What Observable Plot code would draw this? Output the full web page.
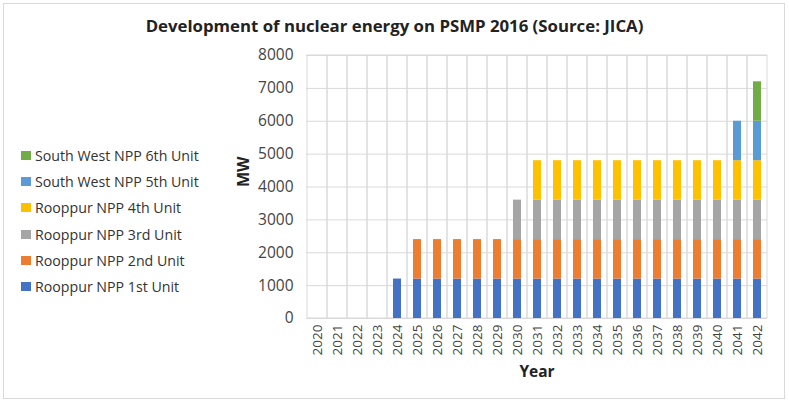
<!DOCTYPE html>
<html>
<head>
<meta charset="utf-8">
<script src="https://cdn.jsdelivr.net/npm/d3@7"></script>
<script src="https://cdn.jsdelivr.net/npm/@observablehq/plot@0.6"></script>
<style>
  html, body { margin: 0; padding: 0; background: #fff; }
  #wrap { position: relative; width: 789px; height: 402px; font-family: "Open Sans", sans-serif; overflow: hidden; }
  #border { position: absolute; left: 3px; top: 3px; width: 780px; height: 394px; border: 1px solid #d9d9d9; pointer-events: none; }
  #title { position: absolute; left: 0; top: 14px; width: 789px; text-align: center; font-weight: bold; font-size: 16.8px; color: #222; }
  #legend { position: absolute; left: 21px; top: 142px; }
  .item { display: flex; align-items: center; height: 26.3px; font-size: 14.2px; color: #333; white-space: nowrap; }
  .sw { width: 10px; height: 9px; margin-right: 4px; }
  #chart { position: absolute; left: 0; top: 0; }
</style>
</head>
<body>
<div id="wrap">
  <div id="chart"></div>
  <div id="title">Development of nuclear energy on PSMP 2016 (Source: JICA)</div>
  <div id="legend"></div>
  <div id="border"></div>
</div>
<script>
const years = ["2020","2021","2022","2023","2024","2025","2026","2027","2028","2029","2030","2031","2032","2033","2034","2035","2036","2037","2038","2039","2040","2041","2042"];
const seriesNames = ["Rooppur NPP 1st Unit","Rooppur NPP 2nd Unit","Rooppur NPP 3rd Unit","Rooppur NPP 4th Unit","South West NPP 5th Unit","South West NPP 6th Unit"];
const seriesColors = ["#4472C4","#ED7D31","#A5A5A5","#FFC000","#5B9BD5","#70AD47"];
const unit1 = [0,0,0,0,1200,1200,1200,1200,1200,1200,1200,1200,1200,1200,1200,1200,1200,1200,1200,1200,1200,1200,1200];
const unit2 = [0,0,0,0,0,1200,1200,1200,1200,1200,1200,1200,1200,1200,1200,1200,1200,1200,1200,1200,1200,1200,1200];
const unit3 = [0,0,0,0,0,0,0,0,0,0,1200,1200,1200,1200,1200,1200,1200,1200,1200,1200,1200,1200,1200];
const unit4 = [0,0,0,0,0,0,0,0,0,0,0,1200,1200,1200,1200,1200,1200,1200,1200,1200,1200,1200,1200];
const unit5 = [0,0,0,0,0,0,0,0,0,0,0,0,0,0,0,0,0,0,0,0,0,1200,1200];
const unit6 = [0,0,0,0,0,0,0,0,0,0,0,0,0,0,0,0,0,0,0,0,0,0,1200];
const yTicks = [0,1000,2000,3000,4000,5000,6000,7000,8000];

const seriesValues = [unit1, unit2, unit3, unit4, unit5, unit6];
const data = [];
seriesNames.forEach((name, si) => {
  years.forEach((yr, i) => data.push({year: yr, series: name, value: seriesValues[si][i]}));
});

const chart = Plot.plot({
  width: 789,
  height: 402,
  marginLeft: 306,
  marginRight: 22,
  marginTop: 55,
  marginBottom: 84,
  style: {fontFamily: "Open Sans, sans-serif", color: "#444", background: "transparent"},
  x: {domain: years, padding: 0, label: null},
  y: {domain: [0, 8000], label: null},
  color: {domain: seriesNames, range: seriesColors},
  marks: [
    Plot.gridY(yTicks, {stroke: "#d9d9d9", strokeOpacity: 1}),
    Plot.cell(years, {x: d => d, fill: "none", stroke: "#d9d9d9"}),
    Plot.barY(data, {x: "year", y: "value", fill: "series", order: seriesNames, insetLeft: 6, insetRight: 6}),
    Plot.ruleY([0], {stroke: "#d9d9d9"}),
    Plot.axisY(yTicks, {tickSize: 0, tickPadding: 13, fontSize: 15.5, tickFormat: d => String(d), label: null, fill: "#444"}),
    Plot.axisX(years, {tickSize: 0, tickPadding: 6, tickRotate: -90, fontSize: 13.5, label: null, fill: "#444"}),
    Plot.text(["Year"], {frameAnchor: "bottom", dy: 58, fontWeight: "bold", fontSize: 15.5, fill: "#222"}),
    Plot.text(["MW"], {frameAnchor: "left", dx: -63, rotate: -90, fontWeight: "bold", fontSize: 16, fill: "#222"})
  ]
});
document.getElementById("chart").appendChild(chart);

const legend = document.getElementById("legend");
for (let i = seriesNames.length - 1; i >= 0; i--) {
  const it = document.createElement("div");
  it.className = "item";
  const sw = document.createElement("span");
  sw.className = "sw";
  sw.style.background = seriesColors[i];
  const tx = document.createElement("span");
  tx.textContent = seriesNames[i];
  it.appendChild(sw);
  it.appendChild(tx);
  legend.appendChild(it);
}
</script>
</body>
</html>
